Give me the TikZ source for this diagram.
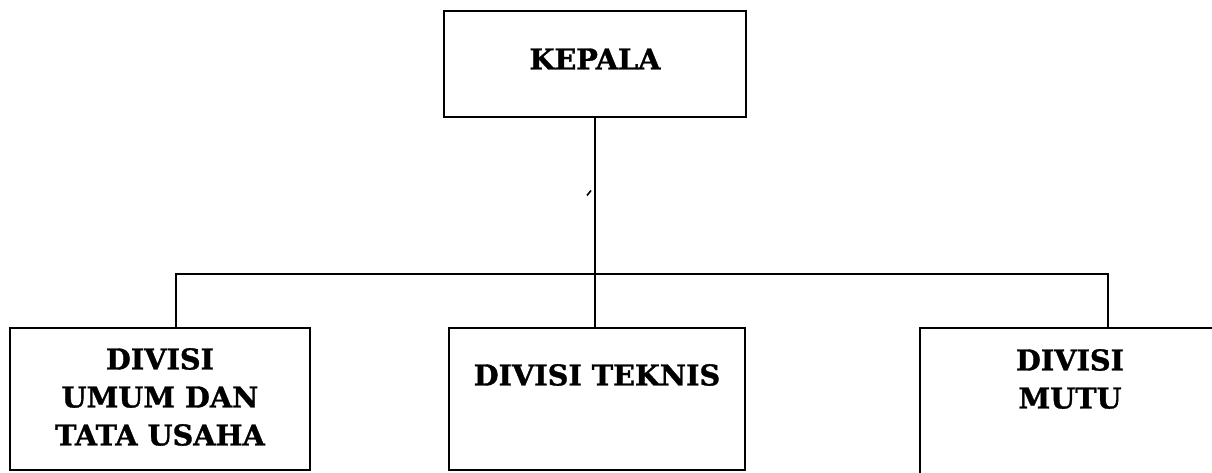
\documentclass[tikz,border=0pt]{standalone}
\usepackage{fontspec}
\setmainfont{DejaVu Serif}[BoldFeatures={FakeBold=1.2}]
\begin{document}
\begin{tikzpicture}[x=0.75pt,y=-0.75pt,
  box/.style={draw=black,line width=1.5pt,fill=white,inner sep=0pt},
  lbl/.style={font=\fontsize{21.5}{28.5}\selectfont\bfseries,align=center,inner sep=0pt},
  conn/.style={draw=black,line width=1.5pt}]
\useasboundingbox (0,0) rectangle (1212,473);
\clip (0,0) rectangle (1212,473);
\fill[white] (0,0) rectangle (1212,473);
% boxes
\node[box,minimum width=226.5pt,minimum height=79.5pt] (kepala) at (595,64) {};
\node[box,minimum width=225pt,minimum height=106.5pt] (umum) at (160,399) {};
\node[box,minimum width=222pt,minimum height=106.5pt] (teknis) at (597,399) {};
\node[box,minimum width=228pt,minimum height=117pt] (mutu) at (1072,406) {};
% texts
\node[lbl] (tkepala) at (595,59) {KEPALA};
\node[lbl] (tumum) at (160,397) {DIVISI\\UMUM DAN\\TATA USAHA};
\node[lbl] (tteknis) at (597,375) {DIVISI TEKNIS};
\node[lbl] (tmutu) at (1070,379) {DIVISI\\MUTU};
% connectors
\coordinate (bl) at (176,274);
\coordinate (br) at (1108,274);
\coordinate (tick) at (589,193);
\draw[conn] (kepala.south) -- (kepala.south |- teknis.north);
\draw[conn] (bl |- umum.north) -- (bl) -- (br) -- (br |- mutu.north);
\draw[line width=1.2pt] ([shift={(-2,2.5)}]tick) -- ([shift={(2,-2.5)}]tick);
\end{tikzpicture}
\end{document}
